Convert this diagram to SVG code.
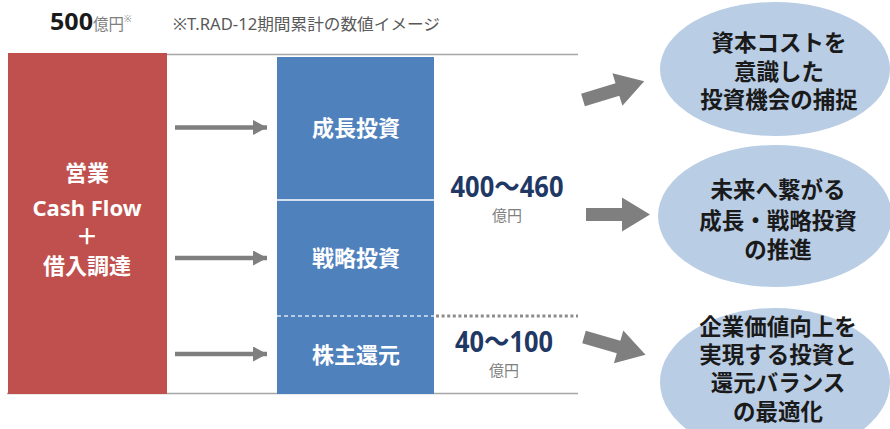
<svg xmlns="http://www.w3.org/2000/svg" width="890" height="429" viewBox="0 0 890 429">
<style>
text{font-family:"Noto Sans","Noto Sans CJK JP",sans-serif}
.w{fill:#fff;font-weight:bold;font-size:22px;text-anchor:middle}
.e{fill:#1a1a1a;font-weight:bold;font-size:22.5px;text-anchor:middle}
.n{fill:#1f3864;font-size:28px;text-anchor:middle;font-weight:bold}
.u{fill:#7f7f7f;font-size:15px;text-anchor:middle}
.ell{fill:#b9cde5}
</style>
<defs>
<marker id="ah" viewBox="0 0 14 15" refX="14" refY="7.5" markerWidth="14" markerHeight="15" markerUnits="userSpaceOnUse" orient="auto">
<path d="M0,0 L14,7.5 L0,15 Z" fill="#7f7f7f"/>
</marker>
<path id="blk" d="M0,-6.5 L36,-6.5 L36,-17 L64,0 L36,17 L36,6.5 L0,6.5 Z"/>
</defs>
<rect width="890" height="429" fill="#fff"/>
<g id="header">
<text x="50" y="30" font-family="Liberation Sans, Arial, sans-serif" font-size="23" font-weight="bold" fill="#1a1a1a" textLength="43" lengthAdjust="spacingAndGlyphs">500</text>
<text x="93" y="30" font-size="15.5" fill="#7f7f7f">億円<tspan font-size="9" dy="-8">※</tspan></text>
<text x="173" y="30" font-size="15.5" fill="#595959" textLength="267" lengthAdjust="spacingAndGlyphs">※T.RAD-12期間累計の数値イメージ</text>
</g>
<g id="frame" stroke="#a6a6a6" stroke-width="1.5">
<line x1="8" y1="54.5" x2="578" y2="54.5"/>
<line x1="7" y1="393.5" x2="578" y2="393.5"/>
</g>
<g id="source">
<rect x="8" y="53" width="159" height="341" fill="#c0504d"/>
<text class="w" x="87" y="181">営業</text>
<text class="w" x="87" y="216">Cash Flow</text>
<text class="w" x="87" y="244" font-weight="normal" font-size="17">＋</text>
<text class="w" x="87" y="274">借入調達</text>
</g>
<g id="uses">
<rect x="277" y="57" width="157" height="337" fill="#4f81bd"/>
<line x1="277" y1="200" x2="434" y2="200" stroke="#fff" stroke-width="1.5"/>
<line x1="277" y1="316" x2="434" y2="316" stroke="#dce6f2" stroke-width="1.5" stroke-dasharray="4 3"/>
<line x1="436" y1="316" x2="578" y2="316" stroke="#8c8c8c" stroke-width="3" stroke-dasharray="3 2.6"/>
<text class="w" x="356" y="136">成長投資</text>
<text class="w" x="356" y="266">戦略投資</text>
<text class="w" x="356" y="363">株主還元</text>
</g>
<g id="amounts">
<text class="n" x="507" y="197" textLength="113" lengthAdjust="spacingAndGlyphs">400〜460</text>
<text class="u" x="507" y="221">億円</text>
<text class="n" x="504" y="352" textLength="98" lengthAdjust="spacingAndGlyphs">40〜100</text>
<text class="u" x="504" y="376">億円</text>
</g>
<g id="connectors" fill="#7f7f7f">
<g stroke="#7f7f7f" stroke-width="4.5" marker-end="url(#ah)">
<line x1="175" y1="127.5" x2="267" y2="127.5"/>
<line x1="175" y1="258" x2="267" y2="258"/>
<line x1="175" y1="354" x2="267" y2="354"/>
</g>
<use href="#blk" transform="translate(583,100) rotate(-17)"/>
<use href="#blk" transform="translate(586,214.5)"/>
<use href="#blk" transform="translate(584,337) rotate(16)"/>
</g>
<g id="goal1">
<ellipse class="ell" cx="775" cy="69" rx="115" ry="67"/>
<text class="e" x="779" y="51">資本コストを</text>
<text class="e" x="779" y="80">意識した</text>
<text class="e" x="779" y="108">投資機会の捕捉</text>
</g>
<g id="goal2">
<ellipse class="ell" cx="775" cy="216" rx="117" ry="71"/>
<text class="e" x="778" y="198">未来へ繋がる</text>
<text class="e" x="778" y="229">成長・戦略投資</text>
<text class="e" x="778" y="258">の推進</text>
</g>
<g id="goal3">
<ellipse class="ell" cx="775" cy="382" rx="115" ry="74"/>
<text class="e" x="778" y="335">企業価値向上を</text>
<text class="e" x="778" y="363">実現する投資と</text>
<text class="e" x="778" y="391">還元バランス</text>
<text class="e" x="778" y="420">の最適化</text>
</g>
</svg>
